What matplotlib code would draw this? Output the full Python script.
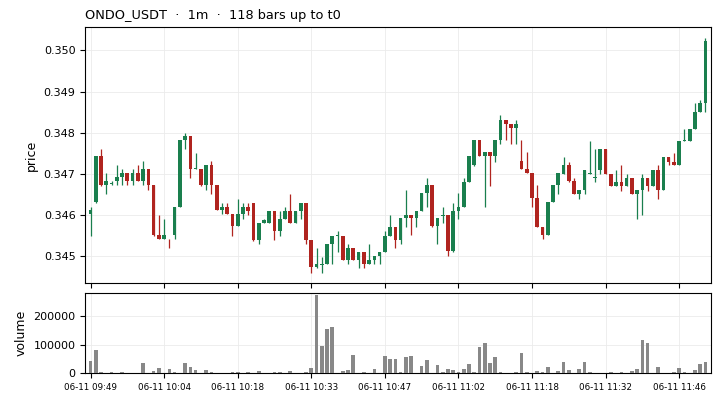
import matplotlib
matplotlib.use("Agg")
import matplotlib.pyplot as plt
import numpy as np

# OHLC, one row per 1m bar
opens = [0.34601, 0.34631, 0.34742, 0.34672, 0.34676, 0.34681, 0.34691, 0.34701, 0.34681, 0.34701,
         0.34681, 0.34711, 0.34672, 0.34550, 0.34540, 0.34542, 0.34550, 0.34620, 0.34781, 0.34792,
         0.34711, 0.34711, 0.34672, 0.34720, 0.34672, 0.34611, 0.34620, 0.34601, 0.34572, 0.34601,
         0.34620, 0.34629, 0.34539, 0.34580, 0.34580, 0.34610, 0.34561, 0.34590, 0.34610, 0.34580,
         0.34610, 0.34629, 0.34539, 0.34472, 0.34478, 0.34480, 0.34529, 0.34549, 0.34549, 0.34490,
         0.34519, 0.34490, 0.34509, 0.34480, 0.34490, 0.34500, 0.34509, 0.34549, 0.34571, 0.34539,
         0.34591, 0.34600, 0.34591, 0.34610, 0.34652, 0.34672, 0.34572, 0.34598, 0.34600, 0.34511,
         0.34610, 0.34620, 0.34680, 0.34720, 0.34781, 0.34742, 0.34752, 0.34742, 0.34781, 0.34830,
         0.34821, 0.34811, 0.34730, 0.34711, 0.34701, 0.34640, 0.34571, 0.34550, 0.34630, 0.34672,
         0.34700, 0.34720, 0.34681, 0.34651, 0.34661, 0.34700, 0.34690, 0.34710, 0.34761, 0.34700,
         0.34671, 0.34680, 0.34671, 0.34689, 0.34651, 0.34661, 0.34689, 0.34671, 0.34710, 0.34661,
         0.34741, 0.34729, 0.34720, 0.34780, 0.34780, 0.34809, 0.34851, 0.34871]
highs = [0.34620, 0.34742, 0.34761, 0.34701, 0.34681, 0.34720, 0.34711, 0.34701, 0.34711, 0.34720,
         0.34730, 0.34711, 0.34672, 0.34600, 0.34590, 0.34542, 0.34620, 0.34781, 0.34800, 0.34792,
         0.34751, 0.34711, 0.34720, 0.34730, 0.34672, 0.34629, 0.34629, 0.34601, 0.34639, 0.34629,
         0.34629, 0.34629, 0.34580, 0.34590, 0.34610, 0.34610, 0.34610, 0.34620, 0.34651, 0.34610,
         0.34629, 0.34629, 0.34539, 0.34519, 0.34498, 0.34529, 0.34549, 0.34561, 0.34549, 0.34528,
         0.34519, 0.34509, 0.34509, 0.34528, 0.34500, 0.34509, 0.34561, 0.34600, 0.34571, 0.34591,
         0.34661, 0.34600, 0.34610, 0.34652, 0.34690, 0.34672, 0.34591, 0.34620, 0.34600, 0.34629,
         0.34652, 0.34690, 0.34742, 0.34781, 0.34781, 0.34752, 0.34752, 0.34781, 0.34842, 0.34830,
         0.34821, 0.34830, 0.34781, 0.34752, 0.34701, 0.34672, 0.34571, 0.34630, 0.34672, 0.34701,
         0.34741, 0.34729, 0.34689, 0.34661, 0.34710, 0.34780, 0.34761, 0.34761, 0.34761, 0.34700,
         0.34710, 0.34720, 0.34700, 0.34689, 0.34661, 0.34700, 0.34689, 0.34710, 0.34720, 0.34741,
         0.34741, 0.34750, 0.34780, 0.34809, 0.34809, 0.34871, 0.34880, 0.35031]
lows = [0.34548, 0.34629, 0.34670, 0.34651, 0.34672, 0.34672, 0.34672, 0.34672, 0.34672, 0.34681,
        0.34672, 0.34661, 0.34548, 0.34540, 0.34540, 0.34520, 0.34540, 0.34620, 0.34761, 0.34690,
        0.34711, 0.34670, 0.34661, 0.34651, 0.34611, 0.34601, 0.34601, 0.34548, 0.34572, 0.34590,
        0.34600, 0.34537, 0.34528, 0.34580, 0.34580, 0.34539, 0.34548, 0.34590, 0.34580, 0.34580,
        0.34590, 0.34528, 0.34458, 0.34470, 0.34458, 0.34480, 0.34480, 0.34509, 0.34490, 0.34480,
        0.34490, 0.34470, 0.34470, 0.34480, 0.34480, 0.34480, 0.34509, 0.34549, 0.34519, 0.34529,
        0.34571, 0.34550, 0.34571, 0.34610, 0.34620, 0.34571, 0.34529, 0.34580, 0.34500, 0.34509,
        0.34590, 0.34620, 0.34680, 0.34719, 0.34742, 0.34620, 0.34670, 0.34728, 0.34772, 0.34781,
        0.34772, 0.34772, 0.34711, 0.34701, 0.34620, 0.34571, 0.34540, 0.34550, 0.34630, 0.34651,
        0.34700, 0.34679, 0.34650, 0.34638, 0.34650, 0.34699, 0.34680, 0.34700, 0.34700, 0.34671,
        0.34671, 0.34659, 0.34669, 0.34651, 0.34589, 0.34599, 0.34659, 0.34671, 0.34638, 0.34661,
        0.34720, 0.34720, 0.34720, 0.34780, 0.34780, 0.34809, 0.34851, 0.34850]
closes = [0.34611, 0.34742, 0.34672, 0.34681, 0.34677, 0.34691, 0.34701, 0.34681, 0.34701, 0.34681,
          0.34711, 0.34672, 0.34550, 0.34540, 0.34550, 0.34540, 0.34620, 0.34781, 0.34792, 0.34711,
          0.34713, 0.34672, 0.34720, 0.34672, 0.34611, 0.34620, 0.34601, 0.34572, 0.34601, 0.34620,
          0.34610, 0.34539, 0.34580, 0.34588, 0.34610, 0.34561, 0.34590, 0.34610, 0.34580, 0.34610,
          0.34629, 0.34539, 0.34472, 0.34480, 0.34480, 0.34529, 0.34549, 0.34551, 0.34490, 0.34519,
          0.34490, 0.34509, 0.34480, 0.34490, 0.34500, 0.34509, 0.34549, 0.34571, 0.34539, 0.34591,
          0.34600, 0.34591, 0.34610, 0.34652, 0.34672, 0.34572, 0.34591, 0.34600, 0.34511, 0.34610,
          0.34620, 0.34680, 0.34742, 0.34781, 0.34742, 0.34752, 0.34742, 0.34781, 0.34830, 0.34821,
          0.34811, 0.34821, 0.34711, 0.34701, 0.34640, 0.34571, 0.34550, 0.34630, 0.34672, 0.34701,
          0.34720, 0.34681, 0.34651, 0.34661, 0.34710, 0.34702, 0.34692, 0.34761, 0.34700, 0.34671,
          0.34680, 0.34671, 0.34689, 0.34651, 0.34661, 0.34689, 0.34671, 0.34710, 0.34661, 0.34741,
          0.34729, 0.34720, 0.34780, 0.34782, 0.34809, 0.34851, 0.34871, 0.35022]
volumes = [42300, 81200, 4700, 400, 3500, 400, 3500, 400, 400, 400,
           35300, 400, 7000, 17600, 400, 14100, 3500, 400, 35300, 21200,
           10600, 400, 10600, 3500, 400, 400, 400, 3500, 3500, 400,
           4700, 400, 8200, 400, 400, 4700, 4700, 400, 8200, 400,
           400, 4700, 18800, 272800, 96400, 152900, 160000, 400, 8200, 11800,
           64700, 400, 4700, 400, 15300, 400, 61200, 50600, 50600, 4700,
           56400, 60000, 400, 24700, 45900, 400, 28200, 3500, 14100, 10600,
           3500, 14100, 31800, 3500, 91700, 105800, 35300, 56400, 3500, 400,
           400, 3500, 70600, 3500, 400, 7000, 3500, 21200, 400, 7000,
           38800, 10600, 400, 14100, 38800, 3500, 400, 400, 400, 3500,
           400, 3500, 400, 7000, 14100, 116400, 105800, 400, 21200, 400,
           400, 3500, 17600, 3500, 400, 10600, 31800, 38800]

tick_pos = [0, 14, 28, 42, 56, 70, 84, 98, 112]
tick_labels = ["06-11 09:49", "06-11 10:04", "06-11 10:18", "06-11 10:33", "06-11 10:47",
               "06-11 11:02", "06-11 11:18", "06-11 11:32", "06-11 11:46"]

up_col = "#1a7f4e"
down_col = "#b0241f"

o = np.array(opens); h = np.array(highs); l = np.array(lows); c = np.array(closes)
x = np.arange(len(o))
cols = [up_col if cc >= oo else down_col for oo, cc in zip(o, c)]

fig = plt.figure(figsize=(7.21, 4.0), dpi=100)
ax = fig.add_axes([0.1183, 0.2925, 0.8674, 0.639])
axv = fig.add_axes([0.1183, 0.0675, 0.8674, 0.2], sharex=ax)

# wicks + bodies
ax.vlines(x, l, h, colors=cols, linewidth=0.9, zorder=2)
body = np.maximum(np.abs(c - o), 0.000004)
ax.bar(x, body, bottom=np.minimum(o, c), width=0.7, color=cols, zorder=3)
ax.set_ylim(0.34434, 0.35056)
ax.set_xlim(-1, 118)
ax.set_ylabel("price", fontsize=9)
ax.set_title("ONDO_USDT  ·  1m  ·  118 bars up to t0", loc="left", fontsize=9.3, pad=6)
ax.grid(True, color="#ebebeb", linewidth=0.6, zorder=0)
ax.tick_params(axis="y", labelsize=8)
ax.tick_params(axis="x", labelbottom=False)

axv.bar(x, volumes, width=0.7, color="#888888", zorder=3)
axv.set_ylim(0, 281000)
axv.set_yticks([0, 100000, 200000])
axv.set_yticklabels(["0", "100000", "200000"])
axv.set_ylabel("volume", fontsize=9)
axv.grid(True, color="#ebebeb", linewidth=0.6, zorder=0)
axv.tick_params(axis="y", labelsize=8)
axv.set_xticks(tick_pos)
axv.set_xticklabels(tick_labels, fontsize=6.3)

fig.savefig("out.png", dpi=100)
